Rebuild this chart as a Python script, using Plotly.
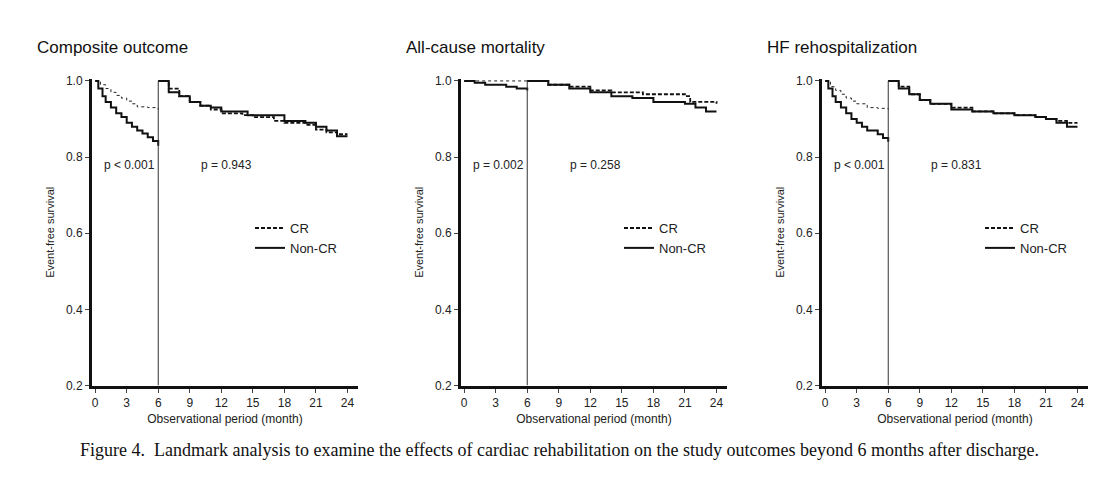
import plotly.graph_objects as go

titles = ["Composite outcome", "All-cause mortality", "HF rehospitalization"]
p_early = ["p < 0.001", "p = 0.002", "p < 0.001"]
p_late = ["p = 0.943", "p = 0.258", "p = 0.831"]
xticks = [0, 3, 6, 9, 12, 15, 18, 21, 24]
yticks = [0.2, 0.4, 0.6, 0.8, 1.0]

# panel 1
p1_cr_early_t = [0, 0.5, 1, 1.5, 2, 2.5, 3, 3.5, 4, 5, 6]
p1_cr_early_s = [1.0, 0.99, 0.98, 0.97, 0.962, 0.955, 0.947, 0.94, 0.932, 0.93, 0.925]
p1_nc_early_t = [0, 0.3, 0.7, 1, 1.5, 2, 2.5, 3, 3.5, 4, 4.5, 5, 5.5, 6]
p1_nc_early_s = [1.0, 0.98, 0.96, 0.945, 0.93, 0.915, 0.905, 0.89, 0.88, 0.87, 0.862, 0.852, 0.842, 0.83]
p1_cr_late_t = [6, 7, 8, 9, 10, 11, 12, 14, 15, 17, 18, 20, 21, 22, 23, 24]
p1_cr_late_s = [1.0, 0.98, 0.96, 0.945, 0.935, 0.925, 0.915, 0.91, 0.905, 0.895, 0.89, 0.885, 0.872, 0.865, 0.86, 0.86]
p1_nc_late_t = [6, 7, 8, 9, 10, 11, 12, 14, 14.5, 17, 18, 20, 21, 22, 23, 24]
p1_nc_late_s = [1.0, 0.97, 0.96, 0.945, 0.935, 0.93, 0.92, 0.92, 0.91, 0.91, 0.895, 0.89, 0.88, 0.87, 0.855, 0.855]
# panel 2
p2_cr_early_t = [0, 6]
p2_cr_early_s = [1.0, 1.0]
p2_nc_early_t = [0, 1, 2, 4, 5, 6]
p2_nc_early_s = [1.0, 0.995, 0.99, 0.985, 0.98, 0.975]
p2_cr_late_t = [6, 8, 10, 12, 14, 17, 21, 21.5, 24]
p2_cr_late_s = [1.0, 0.99, 0.985, 0.975, 0.97, 0.965, 0.96, 0.945, 0.94]
p2_nc_late_t = [6, 8, 10, 12, 14, 16, 18, 21, 22, 23, 24]
p2_nc_late_s = [1.0, 0.99, 0.98, 0.97, 0.96, 0.955, 0.945, 0.94, 0.93, 0.92, 0.92]
# panel 3
p3_cr_early_t = [0, 0.5, 1, 1.5, 2, 2.5, 3, 4, 5, 6]
p3_cr_early_s = [1.0, 0.985, 0.975, 0.965, 0.955, 0.947, 0.94, 0.93, 0.928, 0.925]
p3_nc_early_t = [0, 0.3, 0.7, 1, 1.5, 2, 2.5, 3, 3.5, 4, 5, 5.5, 6]
p3_nc_early_s = [1.0, 0.98, 0.96, 0.945, 0.93, 0.915, 0.9, 0.89, 0.88, 0.87, 0.86, 0.85, 0.84]
p3_cr_late_t = [6, 7, 8, 9, 10, 12, 14, 16, 18, 20, 21, 22, 23, 24]
p3_cr_late_s = [1.0, 0.985, 0.965, 0.95, 0.94, 0.93, 0.92, 0.915, 0.91, 0.905, 0.9, 0.895, 0.89, 0.89]
p3_nc_late_t = [6, 7, 8, 9, 10, 12, 14, 16, 18, 20, 21, 22, 23, 24]
p3_nc_late_s = [1.0, 0.98, 0.965, 0.95, 0.94, 0.925, 0.92, 0.915, 0.91, 0.905, 0.9, 0.89, 0.88, 0.88]

panels = [
    (p1_cr_early_t, p1_cr_early_s, p1_nc_early_t, p1_nc_early_s, p1_cr_late_t, p1_cr_late_s, p1_nc_late_t, p1_nc_late_s),
    (p2_cr_early_t, p2_cr_early_s, p2_nc_early_t, p2_nc_early_s, p2_cr_late_t, p2_cr_late_s, p2_nc_late_t, p2_nc_late_s),
    (p3_cr_early_t, p3_cr_early_s, p3_nc_early_t, p3_nc_early_s, p3_cr_late_t, p3_cr_late_s, p3_nc_late_t, p3_nc_late_s),
]

W, H = 1102, 494
xdom = [(84, 350), (453, 719), (814, 1080)]
ydom = (0.227, 0.863)
FONT = "Liberation Sans, Arial, sans-serif"

fig = go.Figure()
layout = dict(width=W, height=H, margin=dict(l=0, r=0, t=0, b=0),
              paper_bgcolor="white", plot_bgcolor="white", showlegend=True,
              font=dict(family=FONT, color="#222", size=12))
annotations = []
for i, pdata in enumerate(panels):
    k = "" if i == 0 else str(i + 1)
    xa, ya = "x" + k, "y" + k
    leg = "legend" if i == 0 else "legend" + str(i + 1)
    ce_t, ce_s, ne_t, ne_s, cl_t, cl_s, nl_t, nl_s = pdata
    fig.add_trace(go.Scatter(x=ce_t, y=ce_s, mode="lines", line=dict(color="#222", width=1, dash="dot", shape="hv"),
                             xaxis=xa, yaxis=ya, showlegend=False, hoverinfo="skip"))
    fig.add_trace(go.Scatter(x=ne_t, y=ne_s, mode="lines", line=dict(color="#111", width=2, shape="hv"),
                             xaxis=xa, yaxis=ya, showlegend=False, hoverinfo="skip"))
    fig.add_trace(go.Scatter(x=cl_t, y=cl_s, mode="lines", name="CR", legend=leg,
                             line=dict(color="#111", width=1.8, dash="4px,2px", shape="hv"),
                             xaxis=xa, yaxis=ya))
    fig.add_trace(go.Scatter(x=nl_t, y=nl_s, mode="lines", name="Non-CR", legend=leg,
                             line=dict(color="#111", width=2, shape="hv"),
                             xaxis=xa, yaxis=ya))
    x0, x1 = xdom[i]
    layout["xaxis" + k] = dict(domain=[x0 / W, x1 / W], range=[-0.3, 25], tickvals=xticks,
                               ticks="outside", ticklen=4, showline=True, linewidth=3, linecolor="#111",
                               showgrid=False, zeroline=False, anchor=ya,
                               title=dict(text="Observational period (month)", standoff=6, font=dict(size=12)),
                               tickfont=dict(size=12))
    layout["yaxis" + k] = dict(domain=list(ydom), range=[0.2, 1.005], tickvals=yticks, tickformat=".1f",
                               ticks="outside", ticklen=4, showline=True, linewidth=3, linecolor="#111",
                               showgrid=False, zeroline=False, anchor=xa,
                               title=dict(text="Event-free survival", standoff=10, font=dict(size=11)),
                               tickfont=dict(size=12))
    layout[leg] = dict(x=(x0 + 158) / W, y=0.585, xanchor="left", yanchor="top",
                       bgcolor="rgba(0,0,0,0)", font=dict(size=13), tracegroupgap=0, itemwidth=30)
    fig.add_shape(type="line", x0=6, x1=6, y0=0.2, y1=1.0, xref=xa, yref=ya, line=dict(color="#333", width=1))
    annotations.append(dict(text=titles[i], x=(x0 - 57) / W, y=0.929, xref="paper", yref="paper",
                            xanchor="left", yanchor="middle", showarrow=False, font=dict(size=17, color="#111")))
    annotations.append(dict(text=p_early[i], x=3.3, y=0.78, xref=xa, yref=ya, showarrow=False,
                            font=dict(size=12)))
    annotations.append(dict(text=p_late[i], x=12.5, y=0.78, xref=xa, yref=ya, showarrow=False,
                            font=dict(size=12)))
annotations.append(dict(text="Figure 4.  Landmark analysis to examine the effects of cardiac rehabilitation on the study outcomes beyond 6 months after discharge.",
                        x=0.5, y=0.069, xref="paper", yref="paper", showarrow=False,
                        font=dict(family="Liberation Serif, Times New Roman, serif", size=18, color="#111")))
layout["annotations"] = annotations
fig.update_layout(**layout)
fig.write_html("out.html")
